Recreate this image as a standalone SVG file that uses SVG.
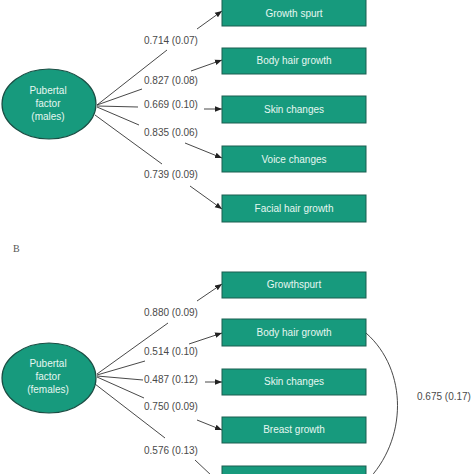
<svg xmlns="http://www.w3.org/2000/svg" width="474" height="474" viewBox="0 0 474 474">
<defs>
<marker id="ah" viewBox="0 0 10 10" refX="10" refY="5" markerWidth="7" markerHeight="7" orient="auto" markerUnits="userSpaceOnUse">
<path d="M0,1 L10,5 L0,9 z" fill="#222"/>
</marker>
<style>
.box{fill:#179a7d;stroke:#1b5e50;stroke-width:1}
.ell{fill:#179a7d;stroke:#1b4e44;stroke-width:1.2}
.bt{font-family:"Liberation Sans",Arial,sans-serif;font-size:10px;fill:#e6f7f1;text-anchor:middle}
.lb{font-family:"Liberation Sans",Arial,sans-serif;font-size:10px;fill:#4a4a4a}
.ln{stroke:#333;stroke-width:0.9;fill:none}
.ar{stroke:#333;stroke-width:0.9;fill:none;marker-end:url(#ah)}
</style>
</defs>
<rect width="474" height="474" fill="#fff"/>

<g id="connectors">
<line class="ln" x1="97" y1="105" x2="167" y2="50"/>
<line class="ar" x1="197" y1="29" x2="222" y2="11"/>
<line class="ln" x1="97" y1="105" x2="142" y2="89"/>
<line class="ar" x1="191" y1="71" x2="222" y2="60"/>
<line class="ln" x1="97" y1="106" x2="138" y2="107"/>
<line class="ar" x1="204" y1="109" x2="222" y2="109"/>
<line class="ln" x1="97" y1="107" x2="139" y2="125"/>
<line class="ar" x1="185" y1="143" x2="222" y2="158"/>
<line class="ln" x1="95" y1="115" x2="162" y2="164"/>
<line class="ar" x1="190" y1="186" x2="222" y2="209"/>

<line class="ln" x1="97" y1="374" x2="168" y2="323"/>
<line class="ar" x1="197" y1="301" x2="222" y2="284"/>
<line class="ln" x1="97" y1="375" x2="145" y2="361"/>
<line class="ar" x1="189" y1="344" x2="222" y2="333"/>
<line class="ln" x1="97" y1="376" x2="143" y2="380"/>
<line class="ar" x1="205" y1="382" x2="222" y2="382"/>
<line class="ln" x1="97" y1="377" x2="144" y2="398"/>
<line class="ar" x1="197" y1="420" x2="222" y2="430"/>
<line class="ln" x1="95" y1="384" x2="165" y2="438"/>
<line class="ln" x1="195" y1="460" x2="212" y2="476"/>
<path class="ln" d="M366,333 C408,370 408,440 366,482"/>
</g>

<g id="labels">
<text class="lb" x="144" y="44">0.714 (0.07)</text>
<text class="lb" x="144" y="84">0.827 (0.08)</text>
<text class="lb" x="144" y="108">0.669 (0.10)</text>
<text class="lb" x="144" y="136">0.835 (0.06)</text>
<text class="lb" x="144" y="178">0.739 (0.09)</text>
<text class="lb" x="144" y="316">0.880 (0.09)</text>
<text class="lb" x="144" y="355">0.514 (0.10)</text>
<text class="lb" x="144" y="383">0.487 (0.12)</text>
<text class="lb" x="144" y="410">0.750 (0.09)</text>
<text class="lb" x="144" y="454">0.576 (0.13)</text>
<text class="lb" x="417" y="400">0.675 (0.17)</text>
<text x="13" y="252" font-family="Liberation Serif,serif" font-size="10" fill="#555">B</text>
</g>

<g id="males">
<ellipse class="ell" cx="49" cy="104" rx="47" ry="35"/>
<text class="bt" x="48" y="94">Pubertal</text>
<text class="bt" x="48" y="107">factor</text>
<text class="bt" x="48" y="120">(males)</text>
</g>
<g id="m1"><rect class="box" x="222" y="-1" width="144" height="27"/><text class="bt" x="294" y="17">Growth spurt</text></g>
<g id="m2"><rect class="box" x="222" y="48" width="144" height="26"/><text class="bt" x="294" y="64">Body hair growth</text></g>
<g id="m3"><rect class="box" x="222" y="96" width="144" height="27"/><text class="bt" x="294" y="113">Skin changes</text></g>
<g id="m4"><rect class="box" x="222" y="146" width="144" height="26"/><text class="bt" x="294" y="163">Voice changes</text></g>
<g id="m5"><rect class="box" x="222" y="195" width="144" height="27"/><text class="bt" x="294" y="212">Facial hair growth</text></g>

<g id="females">
<ellipse class="ell" cx="49" cy="378" rx="47" ry="35"/>
<text class="bt" x="48" y="367">Pubertal</text>
<text class="bt" x="48" y="380">factor</text>
<text class="bt" x="48" y="393">(females)</text>
</g>
<g id="f1"><rect class="box" x="222" y="272" width="144" height="26"/><text class="bt" x="294" y="288">Growthspurt</text></g>
<g id="f2"><rect class="box" x="222" y="319" width="144" height="27"/><text class="bt" x="294" y="336">Body hair growth</text></g>
<g id="f3"><rect class="box" x="222" y="369" width="144" height="26"/><text class="bt" x="294" y="385">Skin changes</text></g>
<g id="f4"><rect class="box" x="222" y="417" width="144" height="26"/><text class="bt" x="294" y="433">Breast growth</text></g>
<g id="f5"><rect class="box" x="222" y="466" width="144" height="27"/></g>
</svg>
